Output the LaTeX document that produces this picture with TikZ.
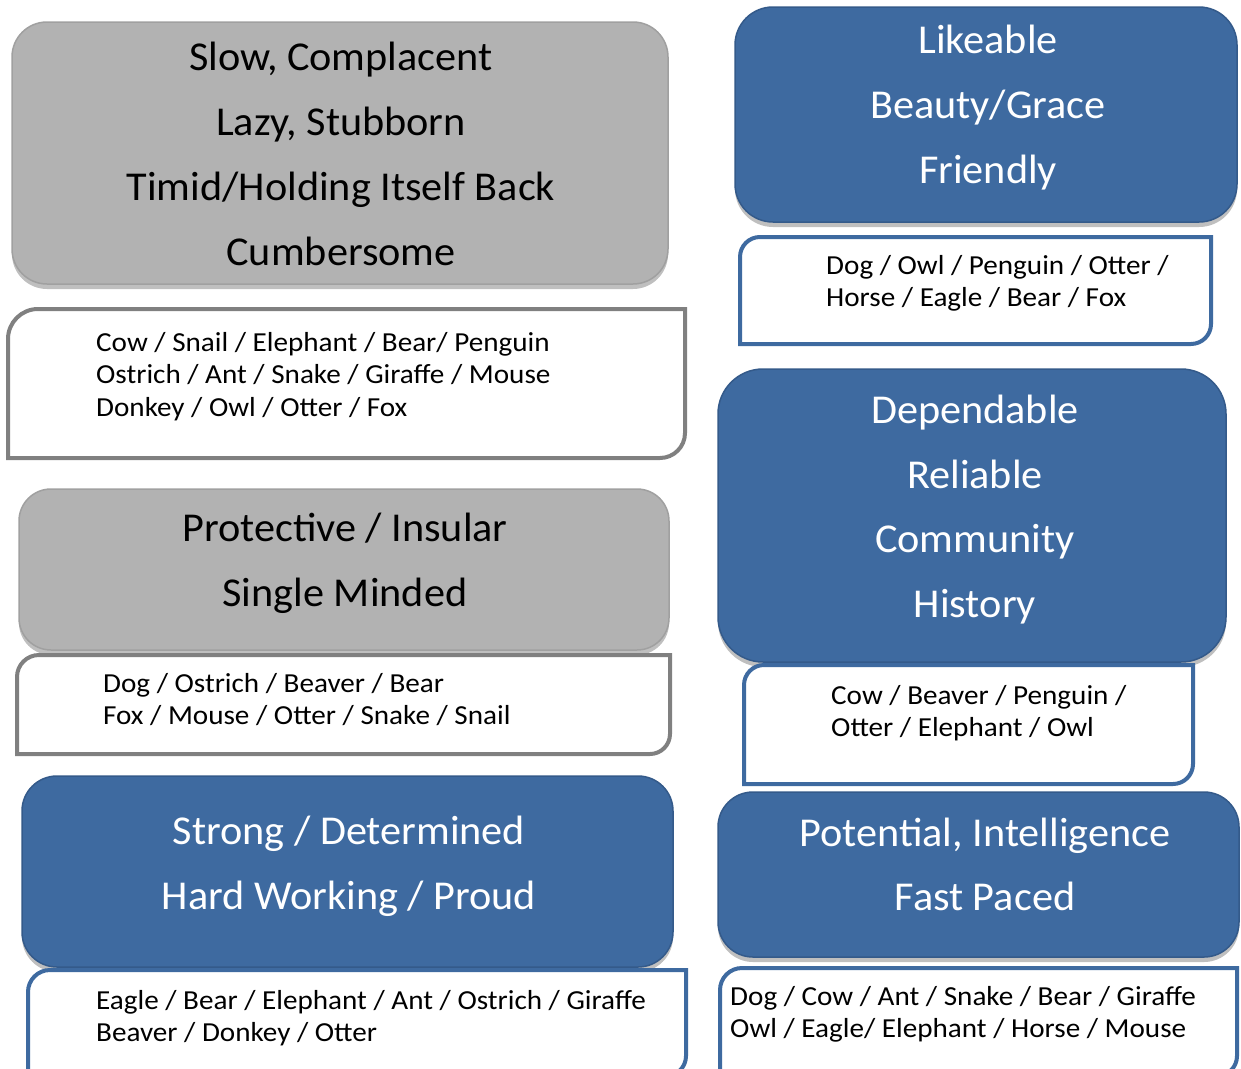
\documentclass[tikz,border=0pt]{standalone}
\usepackage{fontspec}
\setmainfont{Carlito}
\newfontfamily\titlefont[FakeStretch=1.03]{Carlito}
\newfontfamily\itemfont[FakeStretch=1.06]{Carlito}
\usetikzlibrary{shadows}
\definecolor{boxblue}{RGB}{62,106,160}
\definecolor{blueedge}{RGB}{52,90,138}
\definecolor{boxgray}{RGB}{178,178,178}
\definecolor{grayedge}{RGB}{160,160,160}
\definecolor{wgrayedge}{RGB}{128,128,128}
\definecolor{wblueedge}{RGB}{62,106,160}
\tikzset{
  bigbox/.style={draw, line width=1.5pt, drop shadow={shadow xshift=0pt, shadow yshift=-5pt, opacity=0.25, fill=black}},
  graybox/.style={bigbox, fill=boxgray, draw=grayedge},
  bluebox/.style={bigbox, fill=boxblue, draw=blueedge},
  graylist/.style={draw=wgrayedge, line width=4pt, fill=white},
  bluelist/.style={draw=wblueedge, line width=4pt, fill=white},
  title/.style={anchor=base, inner sep=0pt, font=\titlefont\fontsize{41}{49}\selectfont},
  wtitle/.style={title, text=white},
  item/.style={anchor=base west, inner sep=0pt, font=\itemfont\fontsize{27.5}{33}\selectfont}
}
\begin{document}
\begin{tikzpicture}[x=1pt, y=-1pt]
\useasboundingbox (0,0) rectangle (1241,1068);
\clip (0,0) rectangle (1241,1068);
\fill[white] (0,0) rectangle (1241,1068);

% ---------- left column ----------
\path[graybox, rounded corners=35pt] (12,22) rectangle (668,284);
\node[title] (g1a) at (341,70) {Slow, Complacent};
\node[title] (g1b) at (341,135) {Lazy, Stubborn};
\node[title] (g1c) at (341,200) {Timid/Holding Itself Back};
\node[title] (g1d) at (341,265) {Cumbersome};

\draw[graylist] (8,383) [rounded corners=30pt] -- (8,309) -- (346,309) [sharp corners] -- (685,309) -- (685,383) [rounded corners=25pt] -- (685,458) -- (346,458) [sharp corners] -- (8,458) -- cycle;
\node[item] (w1a) at (96,351) {Cow / Snail / Elephant / Bear/ Penguin};
\node[item] (w1b) at (96,383) {Ostrich / Ant / Snake / Giraffe / Mouse};
\node[item] (w1c) at (96,416) {Donkey / Owl / Otter / Fox};

\path[graybox, rounded corners=32pt] (19,489) rectangle (669,650);
\node[title] (g2a) at (345,541) {Protective / Insular};
\node[title] (g2b) at (345,606) {Single Minded};

\draw[graylist] (17,705) [rounded corners=22pt] -- (17,655) -- (343,655) [sharp corners] -- (670,655) -- (670,705) [rounded corners=20pt] -- (670,754) -- (343,754) [sharp corners] -- (17,754) -- cycle;
\node[item] (w2a) at (103,692) {Dog / Ostrich / Beaver / Bear};
\node[item] (w2b) at (103,724) {Fox / Mouse / Otter / Snake / Snail};

\path[bluebox, rounded corners=35pt] (22,776) rectangle (673,967);
\node[wtitle] (b3a) at (349,844) {Strong / Determined};
\node[wtitle] (b3b) at (349,909) {Hard Working / Proud};

\draw[bluelist] (28,1020) [rounded corners=22pt] -- (28,970) -- (357,970) [sharp corners] -- (686,970) -- (686,1020) [rounded corners=20pt] -- (686,1076) -- (357,1076) [sharp corners] -- (28,1076) -- cycle;
\node[item] (w3a) at (96,1009) {Eagle / Bear / Elephant / Ant / Ostrich / Giraffe};
\node[item] (w3b) at (96,1041) {Beaver / Donkey / Otter};

% ---------- right column ----------
\path[bluebox, rounded corners=38pt] (735,7) rectangle (1237,222);
\node[wtitle] (b1a) at (988,53) {Likeable};
\node[wtitle] (b1b) at (988,118) {Beauty/Grace};
\node[wtitle] (b1c) at (988,183) {Friendly};

\draw[bluelist] (740,290) [rounded corners=20pt] -- (740,237) -- (975,237) [sharp corners] -- (1211,237) -- (1211,290) [rounded corners=20pt] -- (1211,344) -- (975,344) [sharp corners] -- (740,344) -- cycle;
\node[item] (r1a) at (826,274) {Dog / Owl / Penguin / Otter /};
\node[item] (r1b) at (826,306) {Horse / Eagle / Bear / Fox};

\path[bluebox, rounded corners=45pt] (718,369) rectangle (1226,662);
\node[wtitle] (b2a) at (975,423) {Dependable};
\node[wtitle] (b2b) at (975,488) {Reliable};
\node[wtitle] (b2c) at (975,552) {Community};
\node[wtitle] (b2d) at (975,617) {History};

\draw[bluelist] (744,724) [rounded corners=20pt] -- (744,665) -- (968,665) [sharp corners] -- (1193,665) -- (1193,724) [rounded corners=20pt] -- (1193,784) -- (968,784) [sharp corners] -- (744,784) -- cycle;
\node[item] (r2a) at (831,704) {Cow / Beaver / Penguin /};
\node[item] (r2b) at (831,736) {Otter / Elephant / Owl};

\path[bluebox, rounded corners=35pt] (718,792) rectangle (1239,957);
\node[wtitle] (b4a) at (985,846) {Potential, Intelligence};
\node[wtitle] (b4b) at (985,910) {Fast Paced};

\draw[bluelist] (720,1020) [rounded corners=22pt] -- (720,968) -- (978,968) [sharp corners] -- (1237,968) -- (1237,1020) [rounded corners=20pt] -- (1237,1076) -- (978,1076) [sharp corners] -- (720,1076) -- cycle;
\node[item] (r3a) at (730,1005) {Dog / Cow / Ant / Snake / Bear / Giraffe};
\node[item] (r3b) at (730,1037) {Owl / Eagle/ Elephant / Horse / Mouse};
\end{tikzpicture}
\end{document}
